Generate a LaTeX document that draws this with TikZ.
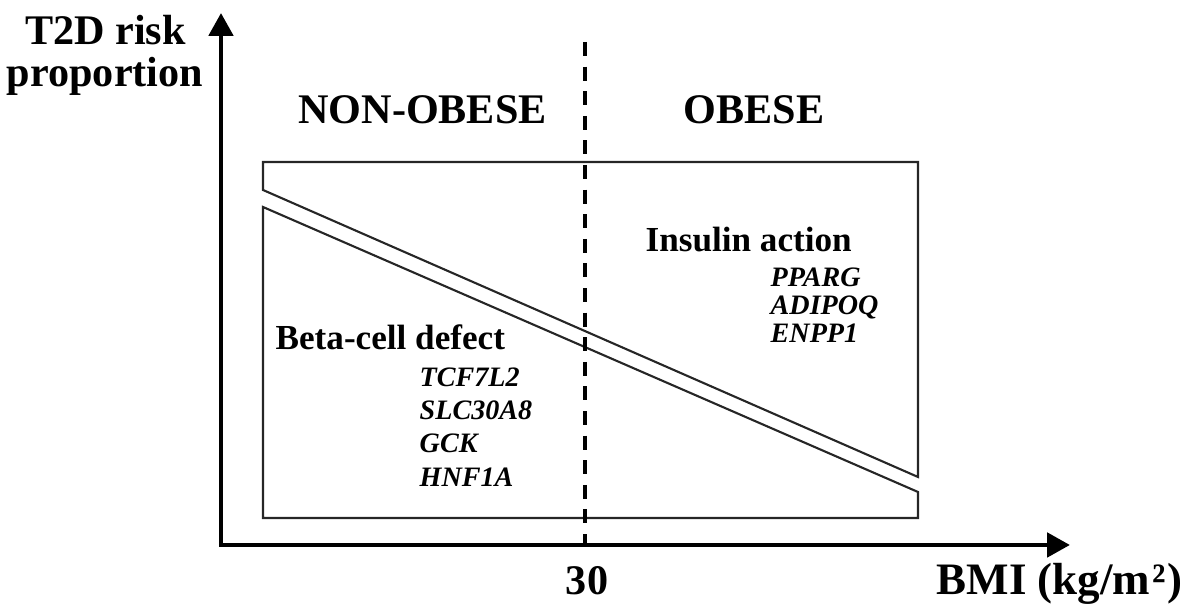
\documentclass[tikz,border=0pt]{standalone}
\usepackage{fontspec}
\setmainfont{Liberation Serif}
\usepackage{tikz}
\usetikzlibrary{arrows.meta}

\begin{document}
\begin{tikzpicture}[>={Triangle[length=6.5pt,width=6.8pt]},font=\bfseries\fontsize{12}{14}\selectfont,
  group/.style={anchor=base west,inner sep=0pt,font=\bfseries\fontsize{10}{12}\selectfont},
  gene/.style={anchor=base west,inner sep=0pt,font=\bfseries\itshape\fontsize{8}{10}\selectfont}]
\useasboundingbox (-2.21,-0.71) rectangle (9.79,5.45);
\draw[black!85,line width=0.6pt] (0.42,3.55) -- (0.42,3.83) -- (6.97,3.83) -- (6.97,0.68) -- cycle;
\draw[black!85,line width=0.6pt] (0.42,3.38) -- (0.42,0.27) -- (6.97,0.27) -- (6.97,0.53) -- cycle;
\draw[line width=1.1pt,dash pattern=on 4pt off 3pt] (3.64,5.03) -- (3.64,0);
\draw[<->,line width=1.4pt] (0,5.32) -- (0,0) -- (8.49,0);
\node[anchor=base] (ylab) at (-1.155,5.00) {T2D risk};
\node[anchor=base] (ylabb) at (-1.16,4.58) {proportion};
\node[anchor=base] (nonobese) at (2.015,4.21) {NON-OBESE};
\node[anchor=base] (obese) at (5.33,4.21) {OBESE};
\node[anchor=base] (cut) at (3.66,-0.50) {30};
\node[anchor=base west,inner sep=0pt,font=\bfseries\fontsize{12.8}{15}\selectfont] (xlab) at (7.15,-0.50) {BMI (kg/m\kern0.5pt²\kern0.5pt)};
\node[group] (beta) at (0.54,1.95) {Beta-cell defect};
\node[gene] (tcf) at (1.98,1.58) {TCF7L2};
\node[gene] (slc) at (1.98,1.25) {SLC30A8};
\node[gene] (gck) at (1.98,0.92) {GCK};
\node[gene] (hnf) at (1.98,0.58) {HNF1A};
\node[group] (insulin) at (4.24,2.93) {Insulin action};
\node[gene] (pparg) at (5.49,2.58) {PPARG};
\node[gene] (adipoq) at (5.49,2.30) {ADIPOQ};
\node[gene] (enpp) at (5.49,2.02) {ENPP1};
\end{tikzpicture}
\end{document}
